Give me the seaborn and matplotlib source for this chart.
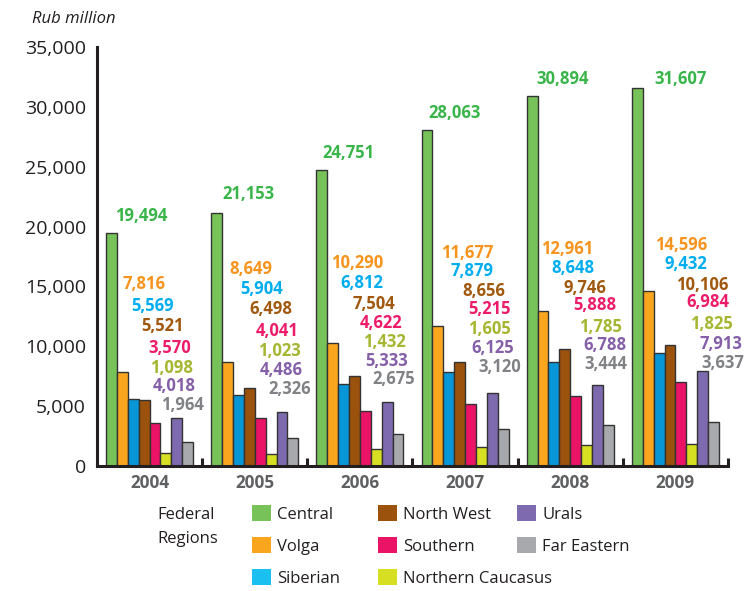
import matplotlib
matplotlib.use("Agg")
import matplotlib.pyplot as plt
from matplotlib.patches import Patch
import seaborn as sns
import pandas as pd

# ---------------- data ----------------
years = ["2004", "2005", "2006", "2007", "2008", "2009"]
regions = ["Central", "Volga", "Siberian", "North West", "Southern",
           "Northern Caucasus", "Urals", "Far Eastern"]
central = [19494, 21153, 24751, 28063, 30894, 31607]
volga = [7816, 8649, 10290, 11677, 12961, 14596]
siberian = [5569, 5904, 6812, 7879, 8648, 9432]
north_west = [5521, 6498, 7504, 8656, 9746, 10106]
southern = [3570, 4041, 4622, 5215, 5888, 6984]
n_caucasus = [1098, 1023, 1432, 1605, 1785, 1825]
urals = [4018, 4486, 5333, 6125, 6788, 7913]
far_eastern = [1964, 2326, 2675, 3120, 3444, 3637]
yticks = [0, 5000, 10000, 15000, 20000, 25000, 30000, 35000]

series = [central, volga, siberian, north_west, southern, n_caucasus, urals, far_eastern]

# ---------------- style ----------------
bar_colors = ["#78C25A", "#F9A61E", "#0996D6", "#9B520C", "#EA1366",
              "#D7DF23", "#7E6AAE", "#A7A9AC"]
legend_colors = ["#78C25A", "#F9A61E", "#1AC0F0", "#9B520C", "#EA1366",
                 "#D7DF23", "#7E6AAE", "#A7A9AC"]
label_colors = ["#39B54A", "#F7941D", "#00AEEF", "#A0590E", "#EC1C6A",
                "#A5B731", "#8560A8", "#808285"]
dark = "#231F20"

# manual label placements (pixel positions in the 755x591 canvas)
central_x_px = [141, 248, 348, 455, 563, 681]
central_y_px = [215, 193, 152, 112, 78, 78]
label_right_px = [
    [166, 174, 184, 191, 193, 196, 204],
    [272, 283, 292, 299, 301, 303, 311],
    [383, 383, 395, 402, 406, 408, 415],
    [493, 494, 505, 511, 511, 514, 521],
    [593, 595, 606, 616, 622, 626, 627],
    [707, 707, 728, 729, 733, 742, 744]]
label_y_px = [
    [283, 305, 325, 347, 367, 385, 404],
    [268, 288, 308, 330, 350, 369, 388],
    [262, 282, 303, 322, 341, 360, 378],
    [252, 270, 290, 308, 328, 347, 366],
    [248, 267, 287, 304, 326, 344, 363],
    [244, 263, 284, 301, 323, 343, 362]]

df = pd.DataFrame([
    {"Year": y, "Region": r, "Value": s[i]}
    for r, s in zip(regions, series)
    for i, y in enumerate(years)
])

sns.set_style("white")
plt.rcParams["font.family"] = ["Open Sans", "DejaVu Sans"]

W, H = 755, 591
fig = plt.figure(figsize=(W / 100, H / 100), dpi=100)
ax_l, ax_r, ax_t, ax_b = 97, 728, 47, 466
ax = fig.add_axes([ax_l / W, 1 - ax_b / H, (ax_r - ax_l) / W, (ax_b - ax_t) / H])

sns.barplot(data=df, x="Year", y="Value", hue="Region", order=years,
            hue_order=regions, palette=bar_colors, width=0.828,
            edgecolor="#333333", linewidth=1.0, saturation=1, legend=False, ax=ax)

ax.set_xlim(-0.5, len(years) - 0.5)
ax.set_ylim(0, 35000)
ax.set_yticks(yticks)
ax.set_yticklabels([f"{t:,}" for t in yticks])
ax.set_xlabel("")
ax.set_ylabel("")
for s in ["top", "right"]:
    ax.spines[s].set_visible(False)
for s in ["left", "bottom"]:
    ax.spines[s].set_linewidth(2.2)
    ax.spines[s].set_color(dark)
ax.tick_params(axis="y", direction="in", length=7.5, width=2.2, color=dark,
               labelsize=14, labelcolor=dark, pad=8)
ax.tick_params(axis="x", length=0, pad=6, labelsize=12.3, labelcolor="#5F6062")
for lab in ax.get_xticklabels():
    lab.set_fontweight("bold")
ax.grid(False)

# group separators on the x axis
sep_h = 8 * 35000 / (ax_b - ax_t)
for k in range(len(years)):
    ax.vlines(k + 0.5, 0, sep_h, color=dark, linewidth=2.2, clip_on=False)

# value labels
def px_x(px):
    return (px - ax_l) / (ax_r - ax_l) * len(years) - 0.5

def px_y(py):
    return (ax_b - py) * 35000 / (ax_b - ax_t)

for i in range(len(years)):
    ax.text(px_x(central_x_px[i]), px_y(central_y_px[i] + 6), f"{central[i]:,}",
            ha="center", va="baseline", color=label_colors[0], fontsize=12,
            fontweight="bold", clip_on=False)
    for j in range(1, len(regions)):
        ax.text(px_x(label_right_px[i][j - 1]), px_y(label_y_px[i][j - 1] + 6),
                f"{series[j][i]:,}", ha="right", va="baseline",
                color=label_colors[j], fontsize=12, fontweight="bold",
                clip_on=False)

# unit label
fig.text(32 / W, 1 - 23 / H, "Rub million", fontsize=12, style="italic",
         color=dark, ha="left", va="baseline")

# legend (three columns)
handles = [Patch(facecolor=c, edgecolor="none") for c in legend_colors]
cols = [[0, 1, 2], [3, 4, 5], [6, 7]]
col_x = [252, 378, 517]
for cx, idx in zip(col_x, cols):
    leg = fig.legend([handles[k] for k in idx], [regions[k] for k in idx],
                     loc="upper left", bbox_to_anchor=(cx / W, 1 - 505 / H),
                     frameon=False, fontsize=12, handlelength=1.14,
                     handleheight=1.14, handletextpad=0.36, labelspacing=0.84,
                     borderpad=0, borderaxespad=0)
    for t in leg.get_texts():
        t.set_color(dark)

fig.text(157 / W, 1 - 519 / H, "Federal", fontsize=12, color=dark,
         ha="left", va="baseline")
fig.text(157 / W, 1 - 543 / H, "Regions", fontsize=12, color=dark,
         ha="left", va="baseline")

fig.savefig("out.png", dpi=100)
